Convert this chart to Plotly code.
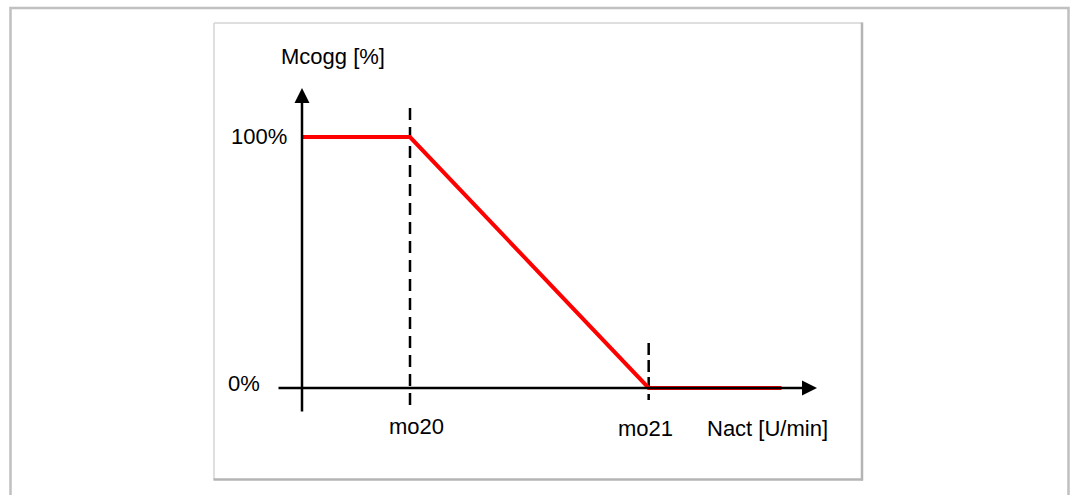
import plotly.graph_objects as go

# Torque reduction curve: full torque up to mo20, linear ramp down to zero at mo21
speed_points = [0.0, 1.0, 3.21, 4.44]      # relative speed, mo20 = 1.0
torque_points = [100, 100, 0, 0]           # Mcogg in %

MO20 = speed_points[1]
MO21 = speed_points[2]

y_tick_values = [0, 100]
y_tick_labels = ["0%", "100%"]
x_marker_labels = ["mo20", "mo21"]
x_title = "Nact [U/min]"
y_title = "Mcogg [%]"

W, H = 1074, 495
# pixel anchors of the drawing
ORIGIN_PX = (302, 388)
PX_PER_X = 108.0
PX_PER_Y = 2.51


def dx(px):
    return (px - ORIGIN_PX[0]) / PX_PER_X


def dy(py):
    return (ORIGIN_PX[1] - py) / PX_PER_Y


FONT = dict(family="Liberation Sans, Arial, sans-serif", size=22, color="#000000")
RED = "#ff0000"
AXIS_W = 2.5

fig = go.Figure()

# dashed guide lines at the two speed thresholds
fig.add_trace(go.Scatter(
    x=[MO20, MO20], y=[dy(405), dy(103)], mode="lines",
    line=dict(color="#000000", width=AXIS_W, dash="12px,7px"), hoverinfo="skip"))
fig.add_trace(go.Scatter(
    x=[MO21, MO21], y=[dy(343), dy(400)], mode="lines",
    line=dict(color="#000000", width=AXIS_W, dash="12px,5px"), hoverinfo="skip"))

annotations = []
# axes drawn as arrows
arrow_style = dict(text="", showarrow=True, arrowhead=2, arrowsize=1.2,
                   arrowwidth=AXIS_W, arrowcolor="#000000", standoff=0,
                   startstandoff=0, xref="x", yref="y", axref="x", ayref="y")
annotations.append(dict(x=0, y=dy(88), ax=0, ay=dy(413), **arrow_style))
annotations.append(dict(x=dx(817), y=0, ax=dx(277), ay=0, **arrow_style))

# torque curve
fig.add_trace(go.Scatter(
    x=speed_points, y=torque_points, mode="lines",
    line=dict(color=RED, width=4), hoverinfo="skip"))

# y tick labels
for val, lab, shift in zip(y_tick_values, y_tick_labels, [5, 1]):
    annotations.append(dict(x=dx(289) if val else dx(262), y=val, xref="x", yref="y",
                            text=lab, showarrow=False, xanchor="right",
                            yanchor="middle", yshift=shift, font=FONT))

# threshold labels
for xv, lab, xs, ys in zip([MO20, MO21], x_marker_labels, [6, -3], [-38, -40]):
    annotations.append(dict(x=xv, y=0, xref="x", yref="y", text=lab,
                            showarrow=False, xanchor="center", yanchor="middle",
                            xshift=xs, yshift=ys, font=FONT))

# axis titles
annotations.append(dict(x=dx(767), y=0, xref="x", yref="y", text=x_title,
                        showarrow=False, xanchor="center", yanchor="middle",
                        yshift=-40, font=FONT))
annotations.append(dict(x=dx(332.5), y=dy(56), xref="x", yref="y", text=y_title,
                        showarrow=False, xanchor="center", yanchor="middle",
                        font=FONT))


def px_x(p):
    return p / W


def px_y(p):
    return 1 - p / H


shapes = [
    # outer frame
    dict(type="rect", xref="paper", yref="paper",
         x0=px_x(10.5), x1=px_x(1068.5), y0=px_y(520), y1=px_y(8),
         line=dict(color="#c0c0c0", width=2.5), fillcolor="rgba(0,0,0,0)", layer="below"),
    # inner panel: light top/left edges
    dict(type="line", xref="paper", yref="paper",
         x0=px_x(214), x1=px_x(862), y0=px_y(23), y1=px_y(23),
         line=dict(color="#d4d4d4", width=1.5), layer="below"),
    dict(type="line", xref="paper", yref="paper",
         x0=px_x(214), x1=px_x(214), y0=px_y(23), y1=px_y(479.5),
         line=dict(color="#d4d4d4", width=1.5), layer="below"),
    # inner panel: darker right/bottom edges
    dict(type="line", xref="paper", yref="paper",
         x0=px_x(862), x1=px_x(862), y0=px_y(22.5), y1=px_y(480.5),
         line=dict(color="#b4b4b4", width=2.5), layer="below"),
    dict(type="line", xref="paper", yref="paper",
         x0=px_x(213.5), x1=px_x(863), y0=px_y(479.5), y1=px_y(479.5),
         line=dict(color="#b4b4b4", width=2.5), layer="below"),
]

fig.update_layout(
    width=W, height=H,
    margin=dict(l=0, r=0, t=0, b=0),
    paper_bgcolor="#ffffff", plot_bgcolor="#ffffff",
    showlegend=False,
    xaxis=dict(range=[dx(0), dx(W)], visible=False, fixedrange=True),
    yaxis=dict(range=[dy(H), dy(0)], visible=False, fixedrange=True),
    annotations=annotations,
    shapes=shapes,
)

fig.write_html("out.html")
